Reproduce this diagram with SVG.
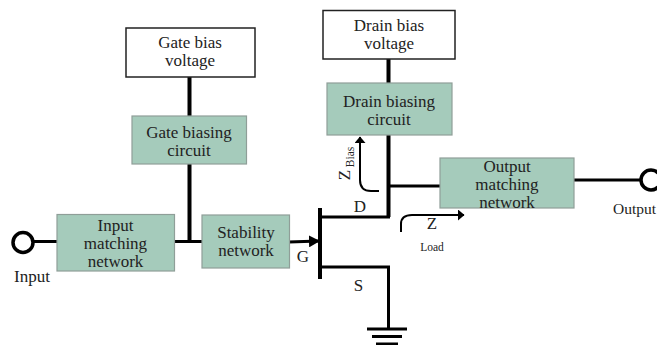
<svg xmlns="http://www.w3.org/2000/svg" width="657" height="345" viewBox="0 0 657 345">
<style>
text{font-family:"Liberation Serif","Times New Roman",serif;font-size:17px;fill:#222;text-anchor:middle}
.sm{font-size:11.500px}
.g{fill:#a5cbbb;stroke:#8f9e98;stroke-width:1.2}
.w{fill:#fff;stroke:#222;stroke-width:1.5}
.c{fill:none;stroke:#000;stroke-width:3}
.t{fill:none;stroke:#000;stroke-width:4}
.a{fill:none;stroke:#000;stroke-width:2}
</style>
<defs>
<marker id="big" markerUnits="userSpaceOnUse" markerWidth="11" markerHeight="12" refX="10" refY="6" orient="auto"><path d="M0 0L11 6L0 12Z" fill="#000"/></marker>
<marker id="sm" markerUnits="userSpaceOnUse" markerWidth="7" markerHeight="11" refX="6" refY="5.500" orient="auto"><path d="M0 0L6.500 5.500L0 11Z" fill="#000"/></marker>
</defs>
<rect width="657" height="345" fill="#fff"/>
<g id="connectors">
<path class="t" d="M189.500 77V116M189.500 164V241"/>
<path class="c" d="M174 241.500H202M33 241.500H57M574 180H642"/>
<path class="t" d="M388.500 59V83M388.500 135V217"/>
<path class="c" d="M390 186H440M320 217H390M320 267H388.500V329"/>
<path class="t" d="M320 208V279"/>
<path class="c" d="M289 242L319 241" marker-end="url(#big)"/>
<path class="c" d="M367 329H407M372 336.500H402M376 344H398"/>
<path class="a" d="M379 191H371Q360 191 360 180V137" marker-end="url(#sm)"/>
<path class="a" d="M401 232V224Q401 215 412 215H464" marker-end="url(#sm)"/>
</g>
<g id="input-port"><circle cx="23" cy="242.500" r="10" fill="#fff" stroke="#000" stroke-width="3.500"/><text x="32" y="282">Input</text></g>
<g id="output-port"><circle cx="651" cy="180" r="10" fill="#fff" stroke="#000" stroke-width="3.500"/><text x="634.500" y="214" style="font-size:15.500px">Output</text></g>
<g id="gate-bias-voltage"><rect class="w" x="126" y="28" width="129" height="49"/><text x="190" y="48">Gate bias</text><text x="190" y="66">voltage</text></g>
<g id="gate-biasing-circuit"><rect class="g" x="132" y="116" width="114.500" height="48"/><text x="189" y="138">Gate biasing</text><text x="189" y="156">circuit</text></g>
<g id="drain-bias-voltage"><rect class="w" x="323" y="10.500" width="132" height="48.500"/><text x="389" y="31">Drain bias</text><text x="389" y="49">voltage</text></g>
<g id="drain-biasing-circuit"><rect class="g" x="327" y="83" width="125" height="52"/><text x="389" y="107">Drain biasing</text><text x="389" y="125">circuit</text></g>
<g id="input-matching-network"><rect class="g" x="57" y="214.500" width="117.500" height="56.500"/><text x="115.500" y="231">Input</text><text x="115.500" y="249">matching</text><text x="115.500" y="267">network</text></g>
<g id="stability-network"><rect class="g" x="202" y="215" width="87.500" height="53"/><text x="246" y="238">Stability</text><text x="246" y="256">network</text></g>
<g id="output-matching-network"><rect class="g" x="440" y="158" width="134" height="50"/><text x="507" y="172">Output</text><text x="507" y="190">matching</text><text x="507" y="208">network</text></g>
<g id="labels">
<text x="360" y="212">D</text>
<text x="303" y="262">G</text>
<text x="358.500" y="291">S</text>
<text x="432" y="229">Z</text>
<text class="sm" x="432" y="251">Load</text>
<text transform="translate(350 175) rotate(-90)">Z</text>
<text class="sm" transform="translate(354 157) rotate(-90)">Bias</text>
</g>
</svg>
